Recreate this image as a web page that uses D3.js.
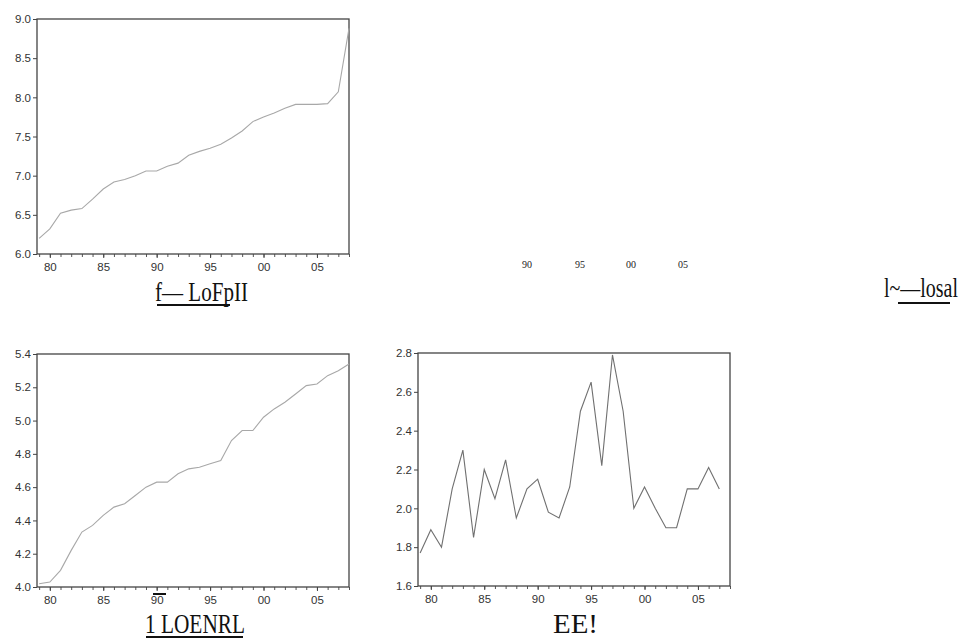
<!DOCTYPE html>
<html><head><meta charset="utf-8">
<script src="https://cdn.jsdelivr.net/npm/d3@7"></script>
<style>body{margin:0;background:#fff}svg{display:block}</style>
</head><body>
<script>
// ---- data ----
const yearsLong = [1979,1980,1981,1982,1983,1984,1985,1986,1987,1988,1989,1990,1991,1992,1993,1994,1995,1996,1997,1998,1999,2000,2001,2002,2003,2004,2005,2006,2007,2008];
const seriesTopLeft = [6.20,6.32,6.52,6.56,6.58,6.70,6.83,6.92,6.95,7.00,7.06,7.06,7.12,7.16,7.26,7.31,7.35,7.40,7.48,7.57,7.69,7.75,7.80,7.86,7.91,7.91,7.91,7.92,8.07,8.88];
const seriesBottomLeft = [4.02,4.03,4.10,4.22,4.33,4.37,4.43,4.48,4.50,4.55,4.60,4.63,4.63,4.68,4.71,4.72,4.74,4.76,4.88,4.94,4.94,5.02,5.07,5.11,5.16,5.21,5.22,5.27,5.30,5.34];
const yearsShort = [1979,1980,1981,1982,1983,1984,1985,1986,1987,1988,1989,1990,1991,1992,1993,1994,1995,1996,1997,1998,1999,2000,2001,2002,2003,2004,2005,2006,2007];
const seriesBottomRight = [1.77,1.89,1.80,2.10,2.30,1.85,2.20,2.05,2.25,1.95,2.10,2.15,1.98,1.95,2.11,2.50,2.65,2.22,2.79,2.50,2.00,2.11,2.00,1.90,1.90,2.10,2.10,2.21,2.10];
const yTicksTopLeft = [6.0,6.5,7.0,7.5,8.0,8.5,9.0];
const yTicksBottomLeft = [4.0,4.2,4.4,4.6,4.8,5.0,5.2,5.4];
const yTicksBottomRight = [1.6,1.8,2.0,2.2,2.4,2.6,2.8];
const xTickYears = [1980,1985,1990,1995,2000,2005];
const xTickLabels = ["80","85","90","95","00","05"];
const captions = ["f— LoFpII","1 LOENRL","EE!","l~—losal"];
const strayLabels = ["90","95","00","05"];

const W = 977, H = 640;
const svg = d3.select("body").append("svg").attr("width", W).attr("height", H);
svg.append("rect").attr("width", W).attr("height", H).attr("fill", "#fff");

const allYearTicks = d3.range(1979, 2009);
const sans = "Liberation Sans, Arial, sans-serif";

function panel(cfg) {
  const g = svg.append("g");
  const x = d3.scaleLinear().domain([1978.8, 2008]).range([cfg.x0, cfg.x1]);
  const y = d3.scaleLinear().domain([cfg.yTicks[0], cfg.yTicks[cfg.yTicks.length - 1]]).range([cfg.y1, cfg.y0]);

  const ya = g.append("g").attr("transform", `translate(${cfg.x0},0)`)
    .call(d3.axisLeft(y).tickValues(cfg.yTicks).tickFormat(d3.format(".1f")).tickSize(4).tickPadding(2));
  ya.select(".domain").remove();
  ya.selectAll("line").attr("stroke", "#444");
  ya.selectAll("text").attr("font-family", sans).attr("font-size", 11.5).attr("fill", "#333");

  const xa = g.append("g").attr("transform", `translate(0,${cfg.y1})`)
    .call(d3.axisBottom(x).tickValues(allYearTicks).tickFormat("").tickSize(3));
  xa.select(".domain").remove();
  xa.selectAll("line").attr("stroke", "#555");
  const xl = g.append("g").attr("transform", `translate(0,${cfg.y1})`)
    .call(d3.axisBottom(x).tickValues(xTickYears).tickFormat((d, i) => xTickLabels[i]).tickSize(4).tickPadding(5));
  xl.select(".domain").remove();
  xl.selectAll("line").attr("stroke", "#444");
  xl.selectAll("text").attr("font-family", sans).attr("font-size", 11.5).attr("fill", "#333");

  g.append("rect").attr("x", cfg.x0).attr("y", cfg.y0)
    .attr("width", cfg.x1 - cfg.x0).attr("height", cfg.y1 - cfg.y0)
    .attr("fill", "none").attr("stroke", "#444").attr("stroke-width", 1.3);

  const line = d3.line().x((d, i) => x(cfg.years[i])).y(d => y(d));
  g.append("path").datum(cfg.values).attr("d", line)
    .attr("fill", "none").attr("stroke", cfg.color).attr("stroke-width", 1.1);
}

panel({x0: 37, x1: 349, y0: 19, y1: 254, yTicks: yTicksTopLeft, years: yearsLong, values: seriesTopLeft, color: "#a8a8a8"});
panel({x0: 37, x1: 349, y0: 354, y1: 587, yTicks: yTicksBottomLeft, years: yearsLong, values: seriesBottomLeft, color: "#a8a8a8"});
panel({x0: 418, x1: 730, y0: 353, y1: 586, yTicks: yTicksBottomRight, years: yearsShort, values: seriesBottomRight, color: "#707070"});

const serif = "Liberation Serif, Times New Roman, serif";
function cap(txt, xx, yy, size, len) {
  svg.append("text").attr("x", xx).attr("y", yy).text(txt)
    .attr("font-family", serif).attr("font-size", size).attr("fill", "#111")
    .attr("textLength", len).attr("lengthAdjust", "spacingAndGlyphs");
}
function rule(xa, xb, yy) {
  svg.append("line").attr("x1", xa).attr("x2", xb).attr("y1", yy).attr("y2", yy)
    .attr("stroke", "#111").attr("stroke-width", 2);
}
cap(captions[0], 155, 301, 28, 93); rule(157, 230, 305);
cap(captions[1], 145, 633, 28, 100); rule(146, 243, 637);
cap(captions[2], 553, 633, 27, 45);
cap(captions[3], 884, 297, 27, 74); rule(898, 950, 303);
rule(153, 166, 594);

const strayX = [527, 580, 631, 683];
strayLabels.forEach((t, i) => {
  svg.append("text").attr("x", strayX[i]).attr("y", 268).attr("text-anchor", "middle")
    .attr("font-family", serif).attr("font-size", 10).attr("fill", "#222").text(t);
});
</script>
</body></html>
